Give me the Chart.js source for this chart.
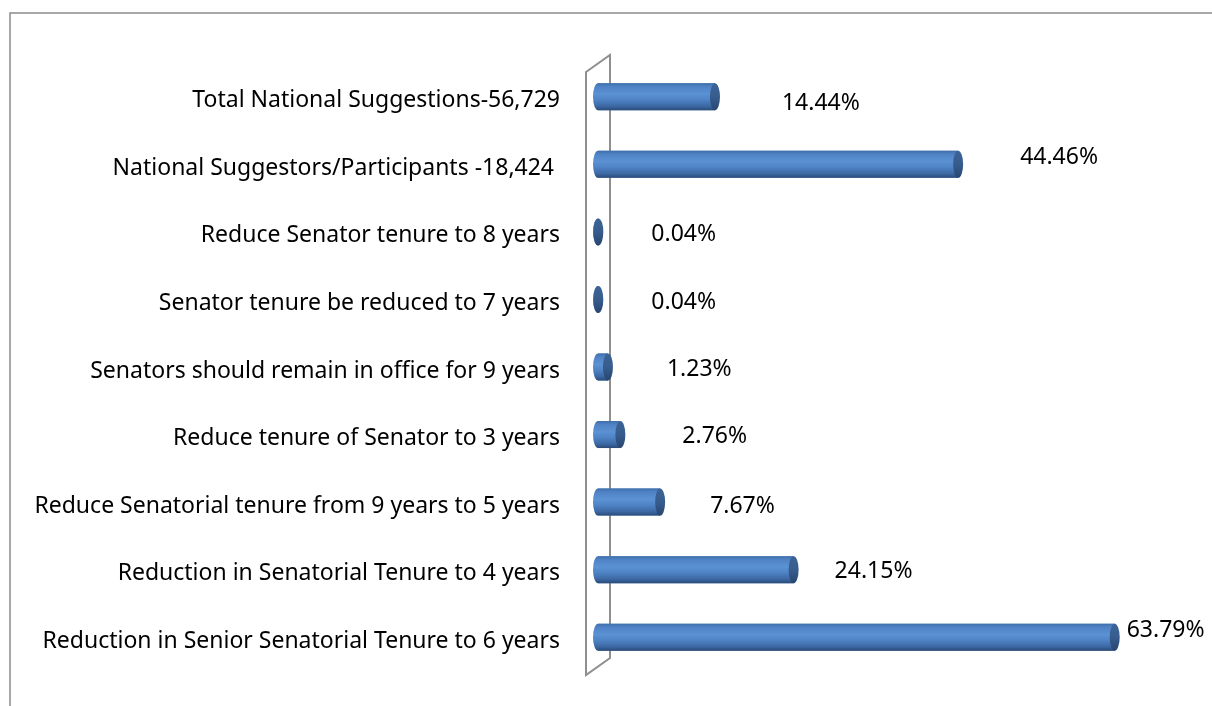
<!DOCTYPE html>
<html lang="en">
<head>
    <meta charset="UTF-8">
    <title>Senatorial tenure suggestions</title>
    <script src="https://cdn.jsdelivr.net/npm/chart.js"></script>
    <style>
        html, body { margin: 0; padding: 0; background: #ffffff; overflow: hidden; }
        canvas { display: block; }
    </style>
</head>
<body>
    <canvas id="graficoTenure" width="1212" height="706"></canvas>

<script>
    // dados (de cima para baixo)
    const categorias = [
        'Total National Suggestions-56,729',
        'National Suggestors/Participants -18,424 ',
        'Reduce Senator tenure to 8 years',
        'Senator tenure be reduced to 7 years',
        'Senators should remain in office for 9 years',
        'Reduce tenure of Senator to 3 years',
        'Reduce Senatorial tenure from 9 years to 5 years',
        'Reduction in Senatorial Tenure to 4 years',
        'Reduction in Senior Senatorial Tenure to 6 years'
    ];
    const percentuais = [14.44, 44.46, 0.04, 0.04, 1.23, 2.76, 7.67, 24.15, 63.79];
    const eixoMin = 0;
    const eixoMax = 70;

    // deslocamento manual dos rotulos (como no original do Excel)
    const rotuloDx = [62, 57, 48, 48, 54, 57, 45, 36, 7];
    const rotuloDy = [7, -7, 3, 3, 2, 2, 4, 2, -7];

    const fonte = '"Noto Sans", "Open Sans", sans-serif';
    const tamanhoFonte = 23;

    // moldura cinza (cortada a direita e embaixo) + parede 3D
    const moldura = {
        id: 'moldura',
        beforeDraw(chart) {
            const c = chart.ctx;
            c.save();
            c.strokeStyle = '#8c8c8c';
            c.lineWidth = 1.5;
            c.beginPath();
            c.moveTo(10, 706);
            c.lineTo(10, 13);
            c.lineTo(1212, 13);
            c.stroke();

            // parede lateral
            const a = chart.chartArea;
            const fx = a.left - 12, bx = a.left + 12;
            c.strokeStyle = '#8f8f8f';
            c.lineWidth = 2;
            c.beginPath();
            c.moveTo(fx, a.top + 9);
            c.lineTo(bx, a.top - 8);
            c.lineTo(bx, a.bottom - 13);
            c.lineTo(fx, a.bottom + 4);
            c.closePath();
            c.stroke();
            c.restore();
        }
    };

    // cilindros 3D e rotulos de valor
    const cilindros = {
        id: 'cilindros',
        afterDatasetsDraw(chart) {
            const c = chart.ctx;
            const meta = chart.getDatasetMeta(0);
            c.save();
            meta.data.forEach(function (el, i) {
                const p = el.getProps(['x', 'y', 'base', 'height'], true);
                const h = p.height, top = p.y - h / 2, rx = 5;

                let grad = c.createLinearGradient(0, top, 0, top + h);
                grad.addColorStop(0, '#3f6ea9');
                grad.addColorStop(0.12, '#4f82c4');
                grad.addColorStop(0.4, '#5b92d4');
                grad.addColorStop(0.6, '#4f84c6');
                grad.addColorStop(0.85, '#3c68a3');
                grad.addColorStop(1, '#2a4a76');

                c.fillStyle = grad;
                c.beginPath();
                c.ellipse(p.base, p.y, rx, h / 2, 0, Math.PI / 2, Math.PI * 1.5);
                c.lineTo(p.x, top);
                c.lineTo(p.x, top + h);
                c.closePath();
                c.fill();

                let tampa = c.createLinearGradient(0, top, 0, top + h);
                tampa.addColorStop(0, '#3d6497');
                tampa.addColorStop(0.5, '#375c8d');
                tampa.addColorStop(1, '#284670');
                c.fillStyle = tampa;
                c.beginPath();
                c.ellipse(p.x, p.y, rx, h / 2, 0, 0, Math.PI * 2);
                c.fill();

                c.fillStyle = '#000000';
                c.font = tamanhoFonte + 'px ' + fonte;
                c.textAlign = 'left';
                c.textBaseline = 'middle';
                c.fillText(percentuais[i].toFixed(2) + '%', p.x + rx + rotuloDx[i], p.y + rotuloDy[i]);
            });
            c.restore();
        }
    };

    const dados = {
        labels: categorias,
        datasets: [{
            label: '',
            data: percentuais,
            backgroundColor: '#4f81bd',
            borderWidth: 0,
            barPercentage: 0.8,
            categoryPercentage: 0.5
        }]
    };

    const config = {
        type: 'bar',
        data: dados,
        options: {
            indexAxis: 'y',
            responsive: false,
            animation: false,
            layout: {
                padding: { left: 0, right: 47, top: 63, bottom: 35 }
            },
            plugins: {
                legend: { display: false },
                tooltip: { enabled: false }
            },
            scales: {
                x: {
                    display: false,
                    min: eixoMin,
                    max: eixoMax
                },
                y: {
                    grid: { display: false, drawTicks: false },
                    border: { display: false },
                    afterFit: function (scale) {
                        scale.width = 598;
                        // o padding do texto nao deve empurrar a area do grafico
                        scale.paddingTop = 0;
                        scale.paddingBottom = 0;
                    },
                    ticks: {
                        padding: 38,
                        labelOffset: 4,
                        color: '#000000',
                        font: { family: fonte, size: tamanhoFonte }
                    }
                }
            }
        },
        plugins: [moldura, cilindros]
    };

    let myChart = new Chart(
        document.getElementById('graficoTenure'),
        config
    );
</script>
</body>
</html>
